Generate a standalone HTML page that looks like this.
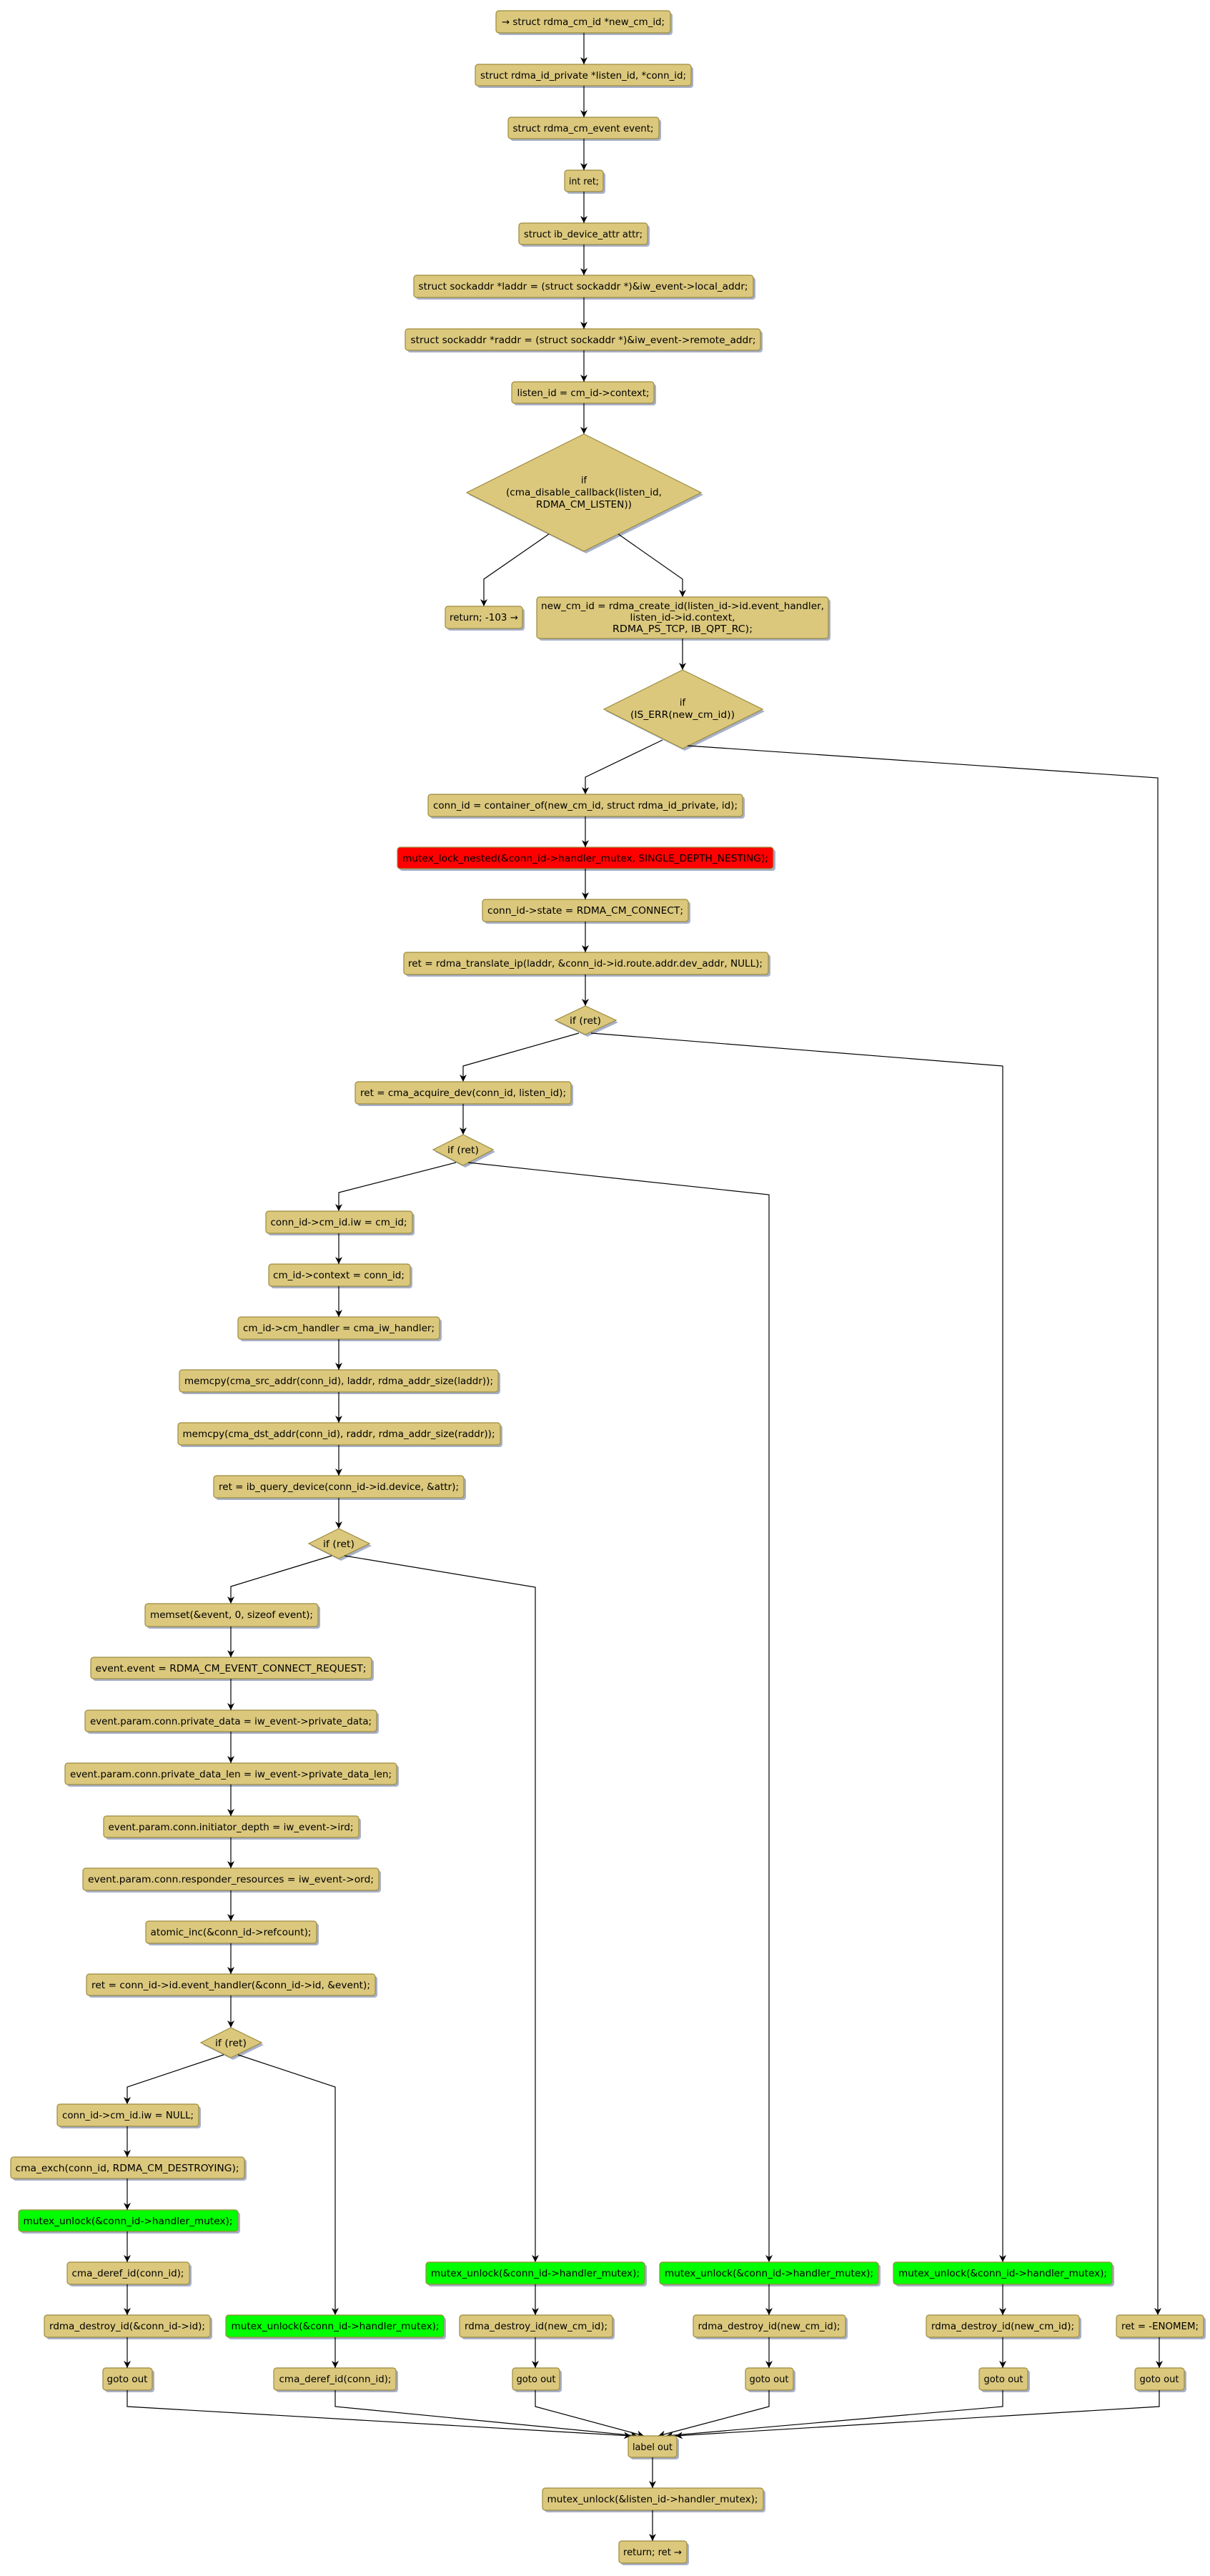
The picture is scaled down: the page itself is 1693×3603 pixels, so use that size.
<!DOCTYPE html>
<html><head><meta charset="utf-8"><style>
html,body{margin:0;padding:0;background:#fff;}
svg{display:block;}
text{font-family:"DejaVu Sans","Liberation Sans",sans-serif;font-size:13px;fill:#000;}
.n{fill:#DBC87D;stroke:#9C8B3E;stroke-width:1.2;}
.g{fill:#00FF00;stroke:#9C8B3E;stroke-width:1.2;}
.r{fill:#FF0000;stroke:#9C8B3E;stroke-width:1.2;}
.s{fill:#A7B0C8;}
.l{stroke:#000;stroke-width:1.2;fill:none;marker-end:url(#a);}
</style></head><body>
<svg width="1693" height="3603" viewBox="0 0 1693 3603" xmlns="http://www.w3.org/2000/svg">
<defs><marker id="a" markerUnits="userSpaceOnUse" markerWidth="10" markerHeight="10" refX="10" refY="5" orient="auto"><path d="M0,0 L10,5 L0,10 L3,5 z" fill="#000"/></marker></defs>

<!-- boxes: shadow then box then text -->
<g>
<rect class="s" x="697" y="18" width="244" height="31" rx="4"/><rect class="n" x="694" y="15" width="244" height="31" rx="4"/><text x="816" y="35" text-anchor="middle" textLength="228" lengthAdjust="spacingAndGlyphs">→ struct rdma_cm_id *new_cm_id;</text>
<rect class="s" x="668" y="93" width="302" height="30" rx="4"/><rect class="n" x="665" y="90" width="302" height="30" rx="4"/><text x="816" y="110" text-anchor="middle" textLength="288" lengthAdjust="spacingAndGlyphs">struct rdma_id_private *listen_id, *conn_id;</text>
<rect class="s" x="714" y="167" width="211" height="30" rx="4"/><rect class="n" x="711" y="164" width="211" height="30" rx="4"/><text x="816" y="184" text-anchor="middle" textLength="197" lengthAdjust="spacingAndGlyphs">struct rdma_cm_event event;</text>
<rect class="s" x="793" y="241" width="54" height="30" rx="4"/><rect class="n" x="790" y="238" width="54" height="30" rx="4"/><text x="817" y="258" text-anchor="middle" textLength="42" lengthAdjust="spacingAndGlyphs">int ret;</text>
<rect class="s" x="729" y="315" width="180" height="30" rx="4"/><rect class="n" x="726" y="312" width="180" height="30" rx="4"/><text x="816" y="332" text-anchor="middle" textLength="166" lengthAdjust="spacingAndGlyphs">struct ib_device_attr attr;</text>
<rect class="s" x="582" y="388" width="475" height="31" rx="4"/><rect class="n" x="579" y="385" width="475" height="31" rx="4"/><text x="816" y="405" text-anchor="middle" textLength="461" lengthAdjust="spacingAndGlyphs">struct sockaddr *laddr = (struct sockaddr *)&amp;iw_event-&gt;local_addr;</text>
<rect class="s" x="570" y="463" width="497" height="30" rx="4"/><rect class="n" x="567" y="460" width="497" height="30" rx="4"/><text x="816" y="480" text-anchor="middle" textLength="483" lengthAdjust="spacingAndGlyphs">struct sockaddr *raddr = (struct sockaddr *)&amp;iw_event-&gt;remote_addr;</text>
<rect class="s" x="719" y="537" width="199" height="30" rx="4"/><rect class="n" x="716" y="534" width="199" height="30" rx="4"/><text x="816" y="554" text-anchor="middle" textLength="185" lengthAdjust="spacingAndGlyphs">listen_id = cm_id-&gt;context;</text>
</g>
<g>
<line class="l" x1="817" y1="46" x2="817" y2="90"/>
<line class="l" x1="817" y1="120" x2="817" y2="164"/>
<line class="l" x1="817" y1="194" x2="817" y2="238"/>
<line class="l" x1="817" y1="268" x2="817" y2="312"/>
<line class="l" x1="817" y1="342" x2="817" y2="385"/>
<line class="l" x1="817" y1="416" x2="817" y2="460"/>
<line class="l" x1="817" y1="490" x2="817" y2="534"/>
<line class="l" x1="817" y1="564" x2="817" y2="607"/>
</g>

<!-- D1 -->
<polygon class="s" points="820,610 984,692 820,774 656,692"/>
<polygon class="n" points="817,607 981,689 817,771 653,689"/>
<text x="817" y="676" text-anchor="middle">if</text>
<text x="817" y="693" text-anchor="middle" textLength="218" lengthAdjust="spacingAndGlyphs">(cma_disable_callback(listen_id,</text>
<text x="817" y="710" text-anchor="middle" textLength="134" lengthAdjust="spacingAndGlyphs">RDMA_CM_LISTEN))</text>
<polyline class="l" points="768,747 677,810 677,848"/>
<polyline class="l" points="865,747 955,810 955,835"/>
<rect class="s" x="626" y="851" width="108" height="31" rx="4"/><rect class="n" x="623" y="848" width="108" height="31" rx="4"/><text x="677" y="868" text-anchor="middle" textLength="96" lengthAdjust="spacingAndGlyphs">return; -103 →</text>
<rect class="s" x="754" y="838" width="408" height="58" rx="4"/><rect class="n" x="751" y="835" width="408" height="58" rx="4"/>
<text x="955" y="852" text-anchor="middle" textLength="396" lengthAdjust="spacingAndGlyphs">new_cm_id = rdma_create_id(listen_id-&gt;id.event_handler,</text>
<text x="955" y="868" text-anchor="middle" textLength="147" lengthAdjust="spacingAndGlyphs">listen_id-&gt;id.context,</text>
<text x="955" y="884" text-anchor="middle" textLength="196" lengthAdjust="spacingAndGlyphs">RDMA_PS_TCP, IB_QPT_RC);</text>
<line class="l" x1="955" y1="893" x2="955" y2="937"/>

<!-- D2 -->
<polygon class="s" points="958,940 1070,995 958,1050 848,995"/>
<polygon class="n" points="955,937 1067,992 955,1047 845,992"/>
<text x="955" y="987" text-anchor="middle">if</text>
<text x="955" y="1004" text-anchor="middle" textLength="146" lengthAdjust="spacingAndGlyphs">(IS_ERR(new_cm_id))</text>
<polyline class="l" points="927,1035 819,1087 819,1111"/>
<polyline class="l" points="962,1043 1620,1088 1620,3238"/>

<rect class="s" x="602" y="1114" width="440" height="31" rx="4"/><rect class="n" x="599" y="1111" width="440" height="31" rx="4"/><text x="819" y="1131" text-anchor="middle" textLength="426" lengthAdjust="spacingAndGlyphs">conn_id = container_of(new_cm_id, struct rdma_id_private, id);</text>
<rect class="s" x="559" y="1188" width="526" height="30" rx="4"/><rect class="r" x="556" y="1185" width="526" height="30" rx="4"/><text x="819" y="1205" text-anchor="middle" textLength="512" lengthAdjust="spacingAndGlyphs">mutex_lock_nested(&amp;conn_id-&gt;handler_mutex, SINGLE_DEPTH_NESTING);</text>
<rect class="s" x="678" y="1261" width="288" height="31" rx="4"/><rect class="n" x="675" y="1258" width="288" height="31" rx="4"/><text x="819" y="1278" text-anchor="middle" textLength="274" lengthAdjust="spacingAndGlyphs">conn_id-&gt;state = RDMA_CM_CONNECT;</text>
<rect class="s" x="568" y="1335" width="510" height="31" rx="4"/><rect class="n" x="565" y="1332" width="510" height="31" rx="4"/><text x="819" y="1352" text-anchor="middle" textLength="496" lengthAdjust="spacingAndGlyphs">ret = rdma_translate_ip(laddr, &amp;conn_id-&gt;id.route.addr.dev_addr, NULL);</text>
<line class="l" x1="819" y1="1142" x2="819" y2="1185"/>
<line class="l" x1="819" y1="1215" x2="819" y2="1258"/>
<line class="l" x1="819" y1="1289" x2="819" y2="1332"/>
<line class="l" x1="819" y1="1363" x2="819" y2="1407"/>

<!-- D3 -->
<polygon class="s" points="822,1410 865,1430 822,1450 780,1430"/>
<polygon class="n" points="819,1407 862,1427 819,1447 777,1427"/>
<text x="819" y="1432" text-anchor="middle" textLength="44" lengthAdjust="spacingAndGlyphs">if (ret)</text>
<polyline class="l" points="810,1445 648,1491 648,1513"/>
<polyline class="l" points="827,1445 1403,1491 1403,3164"/>

<rect class="s" x="500" y="1516" width="302" height="31" rx="4"/><rect class="n" x="497" y="1513" width="302" height="31" rx="4"/><text x="648" y="1533" text-anchor="middle" textLength="288" lengthAdjust="spacingAndGlyphs">ret = cma_acquire_dev(conn_id, listen_id);</text>
<line class="l" x1="648" y1="1544" x2="648" y2="1587"/>

<!-- D4 -->
<polygon class="s" points="651,1590 693,1611 651,1633 609,1611"/>
<polygon class="n" points="648,1587 690,1608 648,1630 606,1608"/>
<text x="648" y="1613" text-anchor="middle" textLength="44" lengthAdjust="spacingAndGlyphs">if (ret)</text>
<polyline class="l" points="638,1626 474,1668 474,1694"/>
<polyline class="l" points="655,1626 1076,1671 1076,3164"/>

<rect class="s" x="375" y="1697" width="205" height="31" rx="4"/><rect class="n" x="372" y="1694" width="205" height="31" rx="4"/><text x="474" y="1714" text-anchor="middle" textLength="191" lengthAdjust="spacingAndGlyphs">conn_id-&gt;cm_id.iw = cm_id;</text>
<rect class="s" x="379" y="1771" width="198" height="31" rx="4"/><rect class="n" x="376" y="1768" width="198" height="31" rx="4"/><text x="474" y="1788" text-anchor="middle" textLength="184" lengthAdjust="spacingAndGlyphs">cm_id-&gt;context = conn_id;</text>
<rect class="s" x="336" y="1845" width="282" height="31" rx="4"/><rect class="n" x="333" y="1842" width="282" height="31" rx="4"/><text x="474" y="1862" text-anchor="middle" textLength="268" lengthAdjust="spacingAndGlyphs">cm_id-&gt;cm_handler = cma_iw_handler;</text>
<rect class="s" x="254" y="1919" width="446" height="31" rx="4"/><rect class="n" x="251" y="1916" width="446" height="31" rx="4"/><text x="474" y="1936" text-anchor="middle" textLength="432" lengthAdjust="spacingAndGlyphs">memcpy(cma_src_addr(conn_id), laddr, rdma_addr_size(laddr));</text>
<rect class="s" x="252" y="1993" width="451" height="31" rx="4"/><rect class="n" x="249" y="1990" width="451" height="31" rx="4"/><text x="474" y="2010" text-anchor="middle" textLength="437" lengthAdjust="spacingAndGlyphs">memcpy(cma_dst_addr(conn_id), raddr, rdma_addr_size(raddr));</text>
<rect class="s" x="302" y="2067" width="350" height="31" rx="4"/><rect class="n" x="299" y="2064" width="350" height="31" rx="4"/><text x="474" y="2084" text-anchor="middle" textLength="336" lengthAdjust="spacingAndGlyphs">ret = ib_query_device(conn_id-&gt;id.device, &amp;attr);</text>
<line class="l" x1="474" y1="1725" x2="474" y2="1768"/>
<line class="l" x1="474" y1="1799" x2="474" y2="1842"/>
<line class="l" x1="474" y1="1873" x2="474" y2="1916"/>
<line class="l" x1="474" y1="1947" x2="474" y2="1990"/>
<line class="l" x1="474" y1="2021" x2="474" y2="2064"/>
<line class="l" x1="474" y1="2095" x2="474" y2="2138"/>

<!-- D5 -->
<polygon class="s" points="477,2141 520,2162 477,2183 435,2162"/>
<polygon class="n" points="474,2138 517,2159 474,2180 432,2159"/>
<text x="474" y="2164" text-anchor="middle" textLength="44" lengthAdjust="spacingAndGlyphs">if (ret)</text>
<polyline class="l" points="464,2176 323,2219 323,2243"/>
<polyline class="l" points="482,2176 749,2220 749,3164"/>

<rect class="s" x="206" y="2246" width="242" height="32" rx="4"/><rect class="n" x="203" y="2243" width="242" height="32" rx="4"/><text x="324" y="2263" text-anchor="middle" textLength="228" lengthAdjust="spacingAndGlyphs">memset(&amp;event, 0, sizeof event);</text>
<rect class="s" x="130" y="2321" width="393" height="30" rx="4"/><rect class="n" x="127" y="2318" width="393" height="30" rx="4"/><text x="323" y="2338" text-anchor="middle" textLength="379" lengthAdjust="spacingAndGlyphs">event.event = RDMA_CM_EVENT_CONNECT_REQUEST;</text>
<rect class="s" x="122" y="2395" width="408" height="30" rx="4"/><rect class="n" x="119" y="2392" width="408" height="30" rx="4"/><text x="323" y="2412" text-anchor="middle" textLength="394" lengthAdjust="spacingAndGlyphs">event.param.conn.private_data = iw_event-&gt;private_data;</text>
<rect class="s" x="94" y="2469" width="464" height="30" rx="4"/><rect class="n" x="91" y="2466" width="464" height="30" rx="4"/><text x="323" y="2486" text-anchor="middle" textLength="450" lengthAdjust="spacingAndGlyphs">event.param.conn.private_data_len = iw_event-&gt;private_data_len;</text>
<rect class="s" x="148" y="2543" width="357" height="30" rx="4"/><rect class="n" x="145" y="2540" width="357" height="30" rx="4"/><text x="323" y="2560" text-anchor="middle" textLength="343" lengthAdjust="spacingAndGlyphs">event.param.conn.initiator_depth = iw_event-&gt;ird;</text>
<rect class="s" x="119" y="2616" width="414" height="31" rx="4"/><rect class="n" x="116" y="2613" width="414" height="31" rx="4"/><text x="323" y="2633" text-anchor="middle" textLength="400" lengthAdjust="spacingAndGlyphs">event.param.conn.responder_resources = iw_event-&gt;ord;</text>
<rect class="s" x="207" y="2690" width="239" height="31" rx="4"/><rect class="n" x="204" y="2687" width="239" height="31" rx="4"/><text x="323" y="2707" text-anchor="middle" textLength="225" lengthAdjust="spacingAndGlyphs">atomic_inc(&amp;conn_id-&gt;refcount);</text>
<rect class="s" x="124" y="2764" width="404" height="30" rx="4"/><rect class="n" x="121" y="2761" width="404" height="30" rx="4"/><text x="323" y="2781" text-anchor="middle" textLength="390" lengthAdjust="spacingAndGlyphs">ret = conn_id-&gt;id.event_handler(&amp;conn_id-&gt;id, &amp;event);</text>
<line class="l" x1="323" y1="2275" x2="323" y2="2318"/>
<line class="l" x1="323" y1="2348" x2="323" y2="2392"/>
<line class="l" x1="323" y1="2422" x2="323" y2="2466"/>
<line class="l" x1="323" y1="2496" x2="323" y2="2540"/>
<line class="l" x1="323" y1="2570" x2="323" y2="2613"/>
<line class="l" x1="323" y1="2644" x2="323" y2="2687"/>
<line class="l" x1="323" y1="2718" x2="323" y2="2761"/>
<line class="l" x1="323" y1="2791" x2="323" y2="2836"/>

<!-- D6 -->
<polygon class="s" points="326,2839 369,2860 326,2881 284,2860"/>
<polygon class="n" points="323,2836 366,2857 323,2878 281,2857"/>
<text x="323" y="2862" text-anchor="middle" textLength="44" lengthAdjust="spacingAndGlyphs">if (ret)</text>
<polyline class="l" points="313,2874 178,2919 178,2943"/>
<polyline class="l" points="333,2874 469,2919 469,3238"/>

<rect class="s" x="83" y="2946" width="198" height="31" rx="4"/><rect class="n" x="80" y="2943" width="198" height="31" rx="4"/><text x="179" y="2963" text-anchor="middle" textLength="184" lengthAdjust="spacingAndGlyphs">conn_id-&gt;cm_id.iw = NULL;</text>
<rect class="s" x="18" y="3020" width="327" height="30" rx="4"/><rect class="n" x="15" y="3017" width="327" height="30" rx="4"/><text x="178" y="3037" text-anchor="middle" textLength="313" lengthAdjust="spacingAndGlyphs">cma_exch(conn_id, RDMA_CM_DESTROYING);</text>
<rect class="s" x="29" y="3094" width="307" height="30" rx="4"/><rect class="g" x="26" y="3091" width="307" height="30" rx="4"/><text x="179" y="3111" text-anchor="middle" textLength="293" lengthAdjust="spacingAndGlyphs">mutex_unlock(&amp;conn_id-&gt;handler_mutex);</text>
<rect class="s" x="97" y="3167" width="171" height="31" rx="4"/><rect class="n" x="94" y="3164" width="171" height="31" rx="4"/><text x="179" y="3184" text-anchor="middle" textLength="157" lengthAdjust="spacingAndGlyphs">cma_deref_id(conn_id);</text>
<rect class="s" x="65" y="3241" width="232" height="31" rx="4"/><rect class="n" x="62" y="3238" width="232" height="31" rx="4"/><text x="178" y="3258" text-anchor="middle" textLength="218" lengthAdjust="spacingAndGlyphs">rdma_destroy_id(&amp;conn_id-&gt;id);</text>
<rect class="s" x="147" y="3315" width="69" height="31" rx="4"/><rect class="n" x="144" y="3312" width="69" height="31" rx="4"/><text x="178" y="3332" text-anchor="middle" textLength="57" lengthAdjust="spacingAndGlyphs">goto out</text>
<line class="l" x1="178" y1="2974" x2="178" y2="3017"/>
<line class="l" x1="178" y1="3047" x2="178" y2="3091"/>
<line class="l" x1="178" y1="3121" x2="178" y2="3164"/>
<line class="l" x1="178" y1="3195" x2="178" y2="3238"/>
<line class="l" x1="178" y1="3269" x2="178" y2="3312"/>

<!-- col2 -->
<rect class="s" x="319" y="3241" width="305" height="31" rx="4"/><rect class="g" x="316" y="3238" width="305" height="31" rx="4"/><text x="469" y="3258" text-anchor="middle" textLength="291" lengthAdjust="spacingAndGlyphs">mutex_unlock(&amp;conn_id-&gt;handler_mutex);</text>
<rect class="s" x="386" y="3315" width="171" height="31" rx="4"/><rect class="n" x="383" y="3312" width="171" height="31" rx="4"/><text x="469" y="3332" text-anchor="middle" textLength="157" lengthAdjust="spacingAndGlyphs">cma_deref_id(conn_id);</text>
<line class="l" x1="469" y1="3269" x2="469" y2="3312"/>

<!-- col3-5 -->
<g>
<rect class="s" x="599" y="3167" width="306" height="31" rx="4"/><rect class="g" x="596" y="3164" width="306" height="31" rx="4"/><text x="749" y="3184" text-anchor="middle" textLength="292" lengthAdjust="spacingAndGlyphs">mutex_unlock(&amp;conn_id-&gt;handler_mutex);</text>
<rect class="s" x="646" y="3241" width="214" height="31" rx="4"/><rect class="n" x="643" y="3238" width="214" height="31" rx="4"/><text x="750" y="3258" text-anchor="middle" textLength="200" lengthAdjust="spacingAndGlyphs">rdma_destroy_id(new_cm_id);</text>
<rect class="s" x="720" y="3315" width="66" height="31" rx="4"/><rect class="n" x="717" y="3312" width="66" height="31" rx="4"/><text x="750" y="3332" text-anchor="middle" textLength="55" lengthAdjust="spacingAndGlyphs">goto out</text>
<line class="l" x1="749" y1="3195" x2="749" y2="3238"/>
<line class="l" x1="749" y1="3269" x2="749" y2="3312"/>

<rect class="s" x="926" y="3167" width="306" height="31" rx="4"/><rect class="g" x="923" y="3164" width="306" height="31" rx="4"/><text x="1076" y="3184" text-anchor="middle" textLength="292" lengthAdjust="spacingAndGlyphs">mutex_unlock(&amp;conn_id-&gt;handler_mutex);</text>
<rect class="s" x="973" y="3241" width="213" height="31" rx="4"/><rect class="n" x="970" y="3238" width="213" height="31" rx="4"/><text x="1076" y="3258" text-anchor="middle" textLength="199" lengthAdjust="spacingAndGlyphs">rdma_destroy_id(new_cm_id);</text>
<rect class="s" x="1046" y="3315" width="67" height="31" rx="4"/><rect class="n" x="1043" y="3312" width="67" height="31" rx="4"/><text x="1076" y="3332" text-anchor="middle" textLength="55" lengthAdjust="spacingAndGlyphs">goto out</text>
<line class="l" x1="1076" y1="3195" x2="1076" y2="3238"/>
<line class="l" x1="1076" y1="3269" x2="1076" y2="3312"/>

<rect class="s" x="1253" y="3167" width="306" height="31" rx="4"/><rect class="g" x="1250" y="3164" width="306" height="31" rx="4"/><text x="1403" y="3184" text-anchor="middle" textLength="292" lengthAdjust="spacingAndGlyphs">mutex_unlock(&amp;conn_id-&gt;handler_mutex);</text>
<rect class="s" x="1299" y="3241" width="214" height="31" rx="4"/><rect class="n" x="1296" y="3238" width="214" height="31" rx="4"/><text x="1403" y="3258" text-anchor="middle" textLength="200" lengthAdjust="spacingAndGlyphs">rdma_destroy_id(new_cm_id);</text>
<rect class="s" x="1373" y="3315" width="68" height="31" rx="4"/><rect class="n" x="1370" y="3312" width="68" height="31" rx="4"/><text x="1404" y="3332" text-anchor="middle" textLength="55" lengthAdjust="spacingAndGlyphs">goto out</text>
<line class="l" x1="1403" y1="3195" x2="1403" y2="3238"/>
<line class="l" x1="1403" y1="3269" x2="1403" y2="3312"/>

<rect class="s" x="1565" y="3241" width="122" height="31" rx="4"/><rect class="n" x="1562" y="3238" width="122" height="31" rx="4"/><text x="1623" y="3258" text-anchor="middle" textLength="108" lengthAdjust="spacingAndGlyphs">ret = -ENOMEM;</text>
<rect class="s" x="1591" y="3315" width="69" height="31" rx="4"/><rect class="n" x="1588" y="3312" width="69" height="31" rx="4"/><text x="1622" y="3332" text-anchor="middle" textLength="55" lengthAdjust="spacingAndGlyphs">goto out</text>
<line class="l" x1="1622" y1="3269" x2="1622" y2="3312"/>
</g>

<!-- merge -->
<polyline class="l" points="178,3343 178,3366 883,3407"/>
<polyline class="l" points="469,3343 469,3366 892,3407"/>
<polyline class="l" points="749,3343 749,3366 901,3407"/>
<polyline class="l" points="1076,3343 1076,3366 921,3407"/>
<polyline class="l" points="1403,3343 1403,3366 932,3407"/>
<polyline class="l" points="1622,3343 1622,3366 945,3407"/>

<rect class="s" x="882" y="3410" width="68" height="30" rx="4"/><rect class="n" x="879" y="3407" width="68" height="30" rx="4"/><text x="913" y="3427" text-anchor="middle" textLength="56" lengthAdjust="spacingAndGlyphs">label out</text>
<rect class="s" x="762" y="3483" width="309" height="31" rx="4"/><rect class="n" x="759" y="3480" width="309" height="31" rx="4"/><text x="913" y="3500" text-anchor="middle" textLength="295" lengthAdjust="spacingAndGlyphs">mutex_unlock(&amp;listen_id-&gt;handler_mutex);</text>
<rect class="s" x="869" y="3557" width="95" height="31" rx="4"/><rect class="n" x="866" y="3554" width="95" height="31" rx="4"/><text x="913" y="3574" text-anchor="middle" textLength="82" lengthAdjust="spacingAndGlyphs">return; ret →</text>
<line class="l" x1="913" y1="3437" x2="913" y2="3480"/>
<line class="l" x1="913" y1="3511" x2="913" y2="3554"/>
</svg>
</body></html>
